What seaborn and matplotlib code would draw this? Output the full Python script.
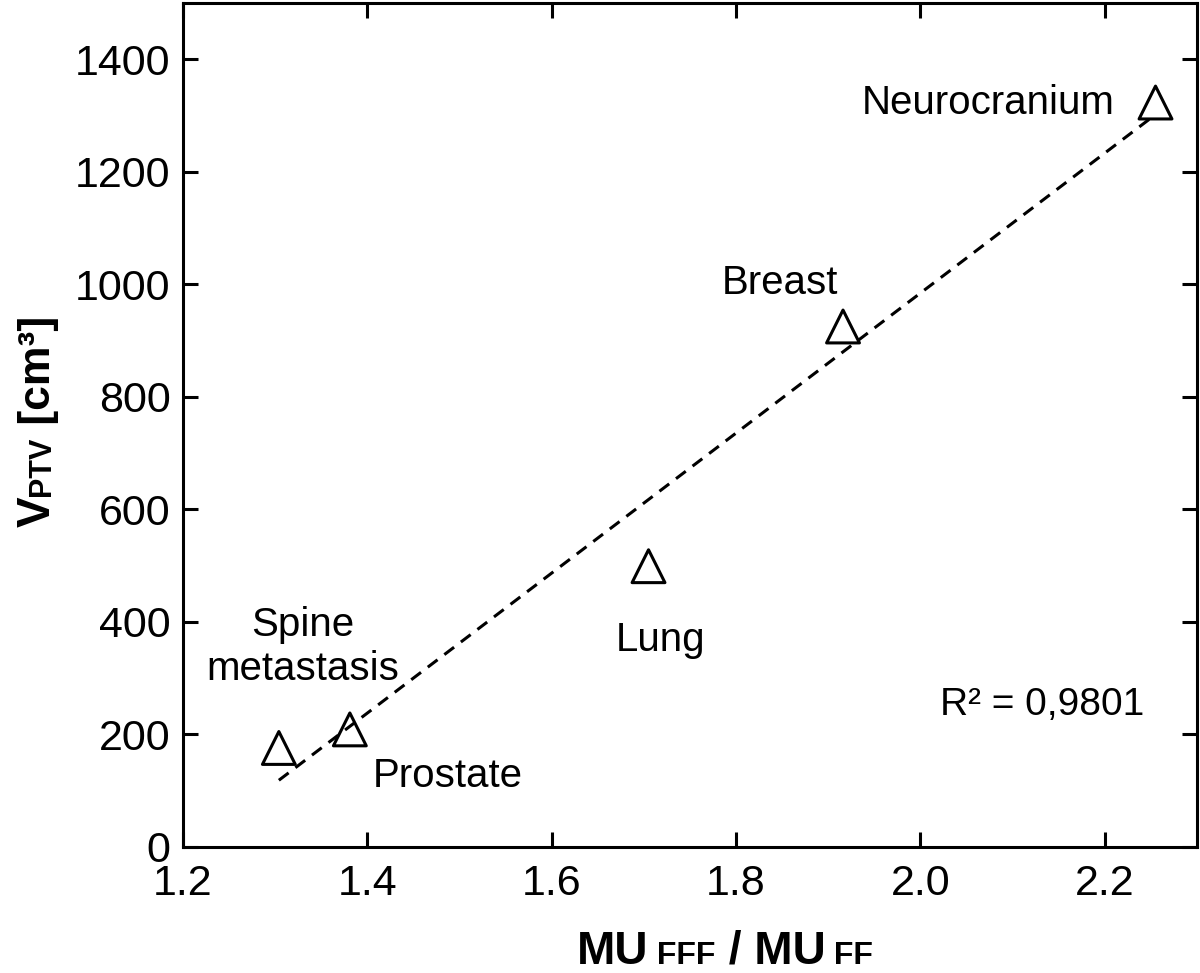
import matplotlib
matplotlib.use("Agg")
import matplotlib.pyplot as plt
import seaborn as sns
import pandas as pd

# data
sites = ["Spine\nmetastasis", "Prostate", "Lung", "Breast", "Neurocranium"]
mu_ratio = [1.304, 1.381, 1.705, 1.916, 2.255]
v_ptv = [176, 209, 499, 925, 1323]

# label anchor (centre, baseline of last line) for each site
label_x = [1.330, 1.487, 1.718, 1.848, 2.074]
label_y = [296, 107, 349, 982, 1303]

x_ticks = [1.2, 1.4, 1.6, 1.8, 2.0, 2.2]
y_ticks = [0, 200, 400, 600, 800, 1000, 1200, 1400]
r2_text = "R² = 0,9801"

df = pd.DataFrame({"ratio": mu_ratio, "vptv": v_ptv, "site": sites})

sns.set_style("ticks")
plt.rcParams["font.family"] = ["Liberation Sans", "DejaVu Sans"]
plt.rcParams["text.color"] = "black"

fig = plt.figure(figsize=(12, 9.73), dpi=100)
ax = fig.add_axes([0.1525, 0.1295, 0.845, 0.8675])

sns.regplot(data=df, x="ratio", y="vptv", ax=ax, ci=None, truncate=True,
            marker="^",
            scatter_kws=dict(s=560, facecolors="none", edgecolors="black",
                             linewidths=2.2, alpha=1),
            line_kws=dict(color="black", lw=2.2, linestyle=(0, (4, 2.8))))

for name, lx, ly in zip(sites, label_x, label_y):
    ax.text(lx, ly, name, ha="center", va="baseline", fontsize=29,
            multialignment="center", linespacing=1.2, color="black")

ax.text(2.132, 234, r2_text, ha="center", va="baseline", fontsize=28, color="black")

ax.set_xlim(1.2, 2.3)
ax.set_ylim(0, 1500)
ax.set_xticks(x_ticks)
ax.set_xticklabels([f"{t:.1f}" for t in x_ticks])
ax.set_yticks(y_ticks)
ax.set_xlabel("")
ax.set_ylabel("")
ax.tick_params(direction="in", top=True, right=True, length=11, width=2.2,
               labelsize=31, colors="black")
ax.tick_params(axis="x", pad=12)
ax.tick_params(axis="y", pad=9)
for sp in ax.spines.values():
    sp.set_linewidth(2.2)
    sp.set_color("black")


def rich_label(pieces, cx, cy, vertical=False):
    # pieces of mixed size placed along a common baseline
    renderer = fig.canvas.get_renderer()
    texts = [fig.text(0, 0, s, fontsize=fs, fontweight="bold", color="black",
                      rotation=90 if vertical else 0, rotation_mode="anchor",
                      ha="left", va="baseline") for s, fs in pieces]
    lengths = []
    for t in texts:
        bb = t.get_window_extent(renderer)
        lengths.append(bb.height if vertical else bb.width)
    W, H = fig.bbox.width, fig.bbox.height
    pos = (cy * H if vertical else cx * W) - sum(lengths) / 2
    for t, L in zip(texts, lengths):
        if vertical:
            t.set_position((cx, pos / H))
        else:
            t.set_position((pos / W, cy))
        pos += L


fig.canvas.draw()
rich_label([("MU", 33), (" FFF", 23), (" / MU", 33), (" FF", 23)],
           725 / 1200, 1 - 964 / 973)
rich_label([("V", 33), ("PTV", 22), (" [cm³]", 32)],
           50 / 1200, 1 - 421 / 973, vertical=True)

fig.savefig("out.png", dpi=100)
